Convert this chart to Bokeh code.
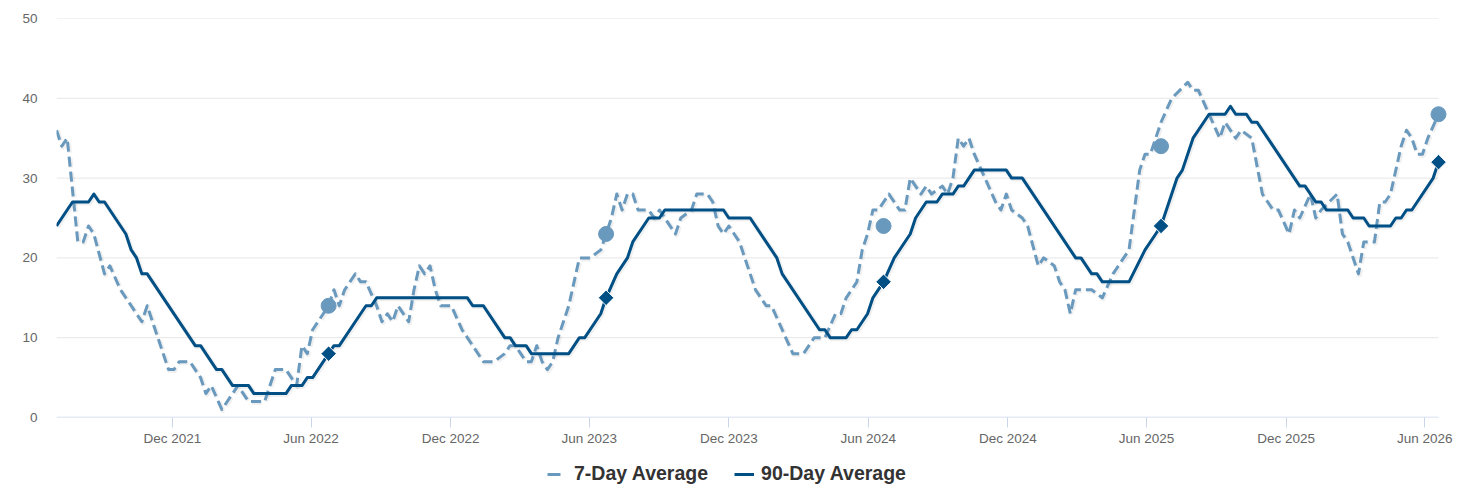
import numpy as np
import pandas as pd
from bokeh.plotting import figure
from bokeh.layouts import column
from bokeh.models import (Legend, LegendItem, FixedTicker, DatetimeTickFormatter,
                          Range1d, ColumnDataSource)
from bokeh.embed import file_html
from bokeh.resources import INLINE

# ---- data (weeks since start date) ----
start_date = "2021-07-02"

week_90 = [0, 3, 6, 7, 8, 9, 13, 14, 15, 16, 17, 26, 27, 30, 31, 33, 36, 37, 43, 44, 46, 47, 48,
           51, 52, 53, 58, 59, 60, 77, 78, 80, 84, 85, 86, 88, 89, 96, 98, 99, 102, 103, 105,
           107, 108, 111, 113, 114, 125, 126, 130, 135, 136, 143, 144, 145, 148, 149, 150, 152,
           153, 155, 157, 160, 161, 163, 165, 166, 168, 169, 170, 172, 178, 179, 181, 191, 192,
           194, 195, 196, 201, 204, 206, 207, 210, 211, 213, 216, 219, 220, 221, 223, 224, 225,
           233, 234, 236, 237, 238, 242, 243, 245, 246, 250, 251, 252, 253, 254, 258, 259]
val_90 = [24, 27, 27, 28, 27, 27, 23, 21, 20, 18, 18, 9, 9, 6, 6, 4, 4, 3, 3, 4, 4, 5, 5,
          8, 9, 9, 14, 14, 15, 15, 14, 14, 10, 10, 9, 9, 8, 8, 10, 10, 13, 15, 18,
          20, 22, 25, 25, 26, 26, 25, 25, 20, 18, 11, 11, 10, 10, 11, 11, 13,
          15, 17, 20, 23, 25, 27, 27, 28, 28, 29, 29, 31, 31, 30, 30, 20, 20,
          18, 18, 17, 17, 21, 23, 24, 30, 31, 35, 38, 38, 39, 38, 38, 37, 37,
          29, 29, 27, 27, 26, 26, 25, 25, 24, 24, 25, 25, 26, 26, 30, 32]

week_7 = [0, 1, 2, 4, 5, 6, 7, 9, 10, 12, 14, 16, 17, 21, 22, 23, 25, 27, 28, 29, 31, 33, 34, 35,
          36, 39, 41, 43, 45, 46, 47, 48, 49, 50, 51, 52, 53, 54, 56, 57, 58, 60, 61, 62, 63, 64,
          66, 67, 68, 69, 70, 71, 72, 74, 76, 78, 80, 82, 84, 85, 86, 87, 88, 89, 90, 91, 92, 93,
          94, 95, 96, 97, 98, 100, 102, 104, 105, 106, 107, 108, 109, 111, 112, 113, 114, 116,
          117, 119, 120, 122, 123, 124, 125, 126, 128, 129, 131, 133, 134, 136, 138, 140, 142,
          144, 146, 147, 148, 150, 151, 152, 153, 154, 156, 157, 158, 159, 160, 161, 162, 163,
          164, 166, 167, 168, 169, 170, 171, 172, 174, 176, 177, 178, 179, 181, 182, 184, 185,
          187, 188, 189, 190, 191, 192, 194, 196, 198, 200, 201, 202, 203, 204, 205, 207, 209,
          212, 213, 214, 216, 218, 219, 221, 222, 224, 226, 227, 228, 229, 231, 232, 233, 235,
          236, 237, 240, 241, 242, 244, 245, 246, 247, 248, 249, 250, 251, 252, 253, 254, 255,
          256, 257, 259]
val_7 = [36, 34, 35, 22, 22, 24, 23, 18, 19, 16, 14, 12, 14, 6, 6, 7, 7, 5, 3, 4, 1, 3, 4, 3,
         2, 2, 6, 6, 4, 9, 8, 11, 12, 13, 14, 16, 14, 16, 18, 17, 17, 14, 12, 13, 12, 14,
         12, 16, 19, 18, 19, 16, 14, 14, 11, 9, 7, 7, 8, 9, 9, 8, 7, 7, 9, 7, 6, 7,
         10, 12, 14, 17, 20, 20, 21, 25, 28, 26, 28, 28, 26, 26, 25, 26, 25, 23,
         25, 26, 28, 28, 27, 24, 23, 24, 22, 20, 16, 14, 14, 11, 8, 8, 10,
         10, 13, 13, 15, 17, 21, 23, 26, 26, 28, 27, 26, 26, 30, 29, 28, 29,
         28, 29, 28, 30, 35, 34, 35, 33, 30, 27, 26, 28, 26, 25, 24, 19, 20,
         19, 17, 16, 13, 16, 16, 16, 15, 18, 20, 21, 26, 31, 33, 33, 37, 40,
         42, 41, 41, 38, 35, 37, 35, 36, 35, 28, 27, 26, 26, 23, 26, 25, 28,
         25, 26, 28, 23, 22, 18, 22, 22, 22, 27, 27, 28, 31, 34, 36, 35, 33,
         33, 35, 38]

marker_weeks = [51, 103, 155, 207, 259]
circle_vals = [14, 23, 24, 34, 38]
diamond_vals = [8, 15, 17, 24, 32]

tick_labels = ["2021-12-01", "2022-06-01", "2022-12-01", "2023-06-01", "2023-12-01",
               "2024-06-01", "2024-12-01", "2025-06-01", "2025-12-01", "2026-06-01"]
y_ticks = [0, 10, 20, 30, 40, 50]

# ---- build ----
t0 = pd.Timestamp(start_date)
def to_dates(weeks):
    return t0 + pd.to_timedelta(np.array(weeks) * 7, unit="D")

d90 = to_dates(week_90)
d7 = to_dates(week_7)
dm = to_dates(marker_weeks)

LIGHT = "#6a99be"
DARK = "#004f85"
FONT = "Liberation Sans"

x_start = to_dates([min(week_7)])[0]
x_end = to_dates([max(week_7)])[0]
span_days = (x_end - x_start) / pd.Timedelta(days=1)
px_per_day = (1438 - 56) / span_days
extra_px = 14
x_end_ext = x_end + pd.Timedelta(days=extra_px / px_per_day)
dx_shadow = pd.Timedelta(days=1.0 / px_per_day)
dy_shadow = 50.0 / 399.0

p = figure(width=1466, height=449, x_axis_type="datetime", output_backend="svg",
           toolbar_location=None, x_range=Range1d(x_start, x_end_ext), y_range=Range1d(0, 50),
           min_border_left=56, min_border_right=28 - extra_px, min_border_top=18,
           min_border_bottom=32)
p.outline_line_color = None
p.background_fill_color = "white"
p.border_fill_color = "white"

# grid drawn only up to the last data date
p.xgrid.grid_line_color = None
p.ygrid.grid_line_color = None
p.segment(x0=[x_start] * 5, x1=[x_end] * 5, y0=y_ticks[1:], y1=y_ticks[1:],
          line_color="#e6e6e6", line_width=1)
p.segment(x0=[x_start], x1=[x_end], y0=[0], y1=[0], line_color="#ccd6eb", line_width=1.5)

# y axis
p.yaxis.ticker = FixedTicker(ticks=y_ticks)
p.yaxis.axis_line_color = None
p.yaxis.major_tick_line_color = None
p.yaxis.minor_tick_line_color = None
p.yaxis.major_tick_out = 0
p.yaxis.major_tick_in = 0
p.yaxis.major_label_standoff = 19
p.yaxis.major_label_text_font = FONT
p.yaxis.major_label_text_font_size = "13.5px"
p.yaxis.major_label_text_color = "#666666"

# x axis
tick_ms = [pd.Timestamp(t).value // 10**6 for t in tick_labels]
p.xaxis.ticker = FixedTicker(ticks=tick_ms)
fmt = "%b %Y"
p.xaxis.formatter = DatetimeTickFormatter(days=fmt, months=fmt, years=fmt, hours=fmt,
                                          minutes=fmt, seconds=fmt, milliseconds=fmt,
                                          microseconds=fmt, hourmin=fmt, minsec=fmt)
p.xaxis.axis_line_color = None
p.xaxis.major_tick_line_color = "#ccd6eb"
p.xaxis.major_tick_out = 10
p.xaxis.major_tick_in = 0
p.xaxis.minor_tick_line_color = None
p.xaxis.major_label_standoff = 3
p.xaxis.major_label_text_font = FONT
p.xaxis.major_label_text_font_size = "13.5px"
p.xaxis.major_label_text_color = "#666666"

# shadows
p.line(x=d7 + dx_shadow, y=np.array(val_7) - dy_shadow, line_color="black", line_alpha=0.06,
       line_width=5, line_dash="10 5", line_join="round")
p.line(x=d90 + dx_shadow, y=np.array(val_90) - dy_shadow, line_color="black", line_alpha=0.06,
       line_width=5, line_join="round")

# series
src7 = ColumnDataSource(dict(x=d7, y=val_7))
src90 = ColumnDataSource(dict(x=d90, y=val_90))
p.line("x", "y", source=src7, line_color=LIGHT, line_width=3, line_dash="10 5",
       line_join="round")
p.line("x", "y", source=src90, line_color=DARK, line_width=3, line_join="round")

p.scatter(x=dm, y=circle_vals, marker="circle", size=15, fill_color=LIGHT, line_color=LIGHT)
p.scatter(x=dm, y=diamond_vals, marker="square", size=11, angle=np.pi / 4,
          fill_color=DARK, line_color="white", line_width=1)

# ---- legend strip (separate small figure below the chart) ----
pl = figure(width=1466, height=42, output_backend="svg", toolbar_location=None,
            x_range=Range1d(0, 1), y_range=Range1d(0, 1),
            x_axis_location=None, y_axis_location=None,
            min_border_left=0, min_border_right=0, min_border_top=0, min_border_bottom=0)
pl.outline_line_color = None
pl.xgrid.grid_line_color = None
pl.ygrid.grid_line_color = None
pl.background_fill_color = "white"
pl.border_fill_color = "white"
leg7 = pl.line(x=[-5, -4], y=[-5, -5], line_color=LIGHT, line_width=3, line_dash="13 20")
leg90 = pl.line(x=[-5, -4], y=[-5, -5], line_color=DARK, line_width=3)
legend = Legend(items=[LegendItem(label="7-Day Average", renderers=[leg7]),
                       LegendItem(label="90-Day Average", renderers=[leg90])],
                location=(491, 6), orientation="horizontal",
                glyph_width=20, glyph_height=20, label_standoff=7, spacing=26,
                padding=0, margin=0, border_line_alpha=0, background_fill_alpha=0,
                label_text_font=FONT, label_text_font_style="bold",
                label_text_font_size="19.5px", label_text_color="#333333")
pl.add_layout(legend)

layout = column(p, pl, spacing=0)
open("out.html", "w").write(file_html(layout, INLINE))
